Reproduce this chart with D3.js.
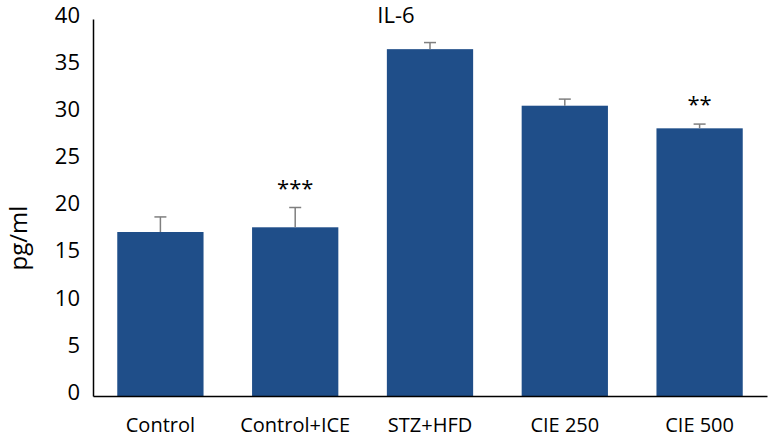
<!DOCTYPE html>
<html><head><meta charset="utf-8">
<script src="https://cdn.jsdelivr.net/npm/d3@7"></script>
<style>body{margin:0;background:#fff}svg{display:block}text{font-family:"Open Sans","Liberation Sans",sans-serif;fill:#000}</style>
</head><body>
<svg id="c" width="768" height="437"></svg>
<script>
const categories = ["Control","Control+ICE","STZ+HFD","CIE 250","CIE 500"];
const values = [17.4, 17.9, 36.8, 30.8, 28.4];
const errors = [1.6, 2.1, 0.7, 0.7, 0.45];
const marks = ["", "***", "", "", "**"];
const yTicks = [0,5,10,15,20,25,30,35,40];

const svg = d3.select("#c");
const m = {l:93, r:1, t:19, b:41};
const W = 768, H = 437;
const x = d3.scaleBand().domain(categories).range([m.l, W - m.r]).paddingInner(0.36).paddingOuter(0.18);
const y = d3.scaleLinear().domain([0,40]).range([H - m.b, m.t]);

const g = svg.append("g");
g.selectAll("rect.bar").data(categories).join("rect")
  .attr("x", d => x(d)).attr("width", x.bandwidth())
  .attr("y", (d,i) => y(values[i])).attr("height", (d,i) => y(0) - y(values[i]))
  .attr("fill", "#1F4E89");

const eb = g.selectAll("g.err").data(categories).join("g");
eb.append("line").attr("x1", d => x(d)+x.bandwidth()/2).attr("x2", d => x(d)+x.bandwidth()/2)
  .attr("y1", (d,i) => y(values[i])).attr("y2", (d,i) => y(values[i]+errors[i]))
  .attr("stroke", "#7f7f7f").attr("stroke-width", 1.5);
eb.append("line").attr("x1", d => x(d)+x.bandwidth()/2-6).attr("x2", d => x(d)+x.bandwidth()/2+6)
  .attr("y1", (d,i) => y(values[i]+errors[i])).attr("y2", (d,i) => y(values[i]+errors[i]))
  .attr("stroke", "#7f7f7f").attr("stroke-width", 1.5);

g.selectAll("text.mark").data(categories).join("text")
  .attr("x", d => x(d)+x.bandwidth()/2)
  .attr("y", (d,i) => y(values[i]+errors[i]) - 12)
  .attr("text-anchor", "middle").attr("font-size", 22)
  .text((d,i) => marks[i]);

const ya = svg.append("g").attr("transform", `translate(${m.l},0)`)
  .call(d3.axisLeft(y).tickValues(yTicks).tickSize(0).tickPadding(13));
ya.select(".domain").attr("stroke", "#000").attr("stroke-width", 1.5);
ya.selectAll("text").attr("font-size", 22).attr("dy", "0.15em");

const xa = svg.append("g").attr("transform", `translate(0,${y(0)})`)
  .call(d3.axisBottom(x).tickSize(0).tickPadding(22));
xa.select(".domain").attr("stroke", "#000").attr("stroke-width", 1.5);
xa.selectAll("text").attr("font-size", 20);

svg.append("text").attr("x", 396).attr("y", 23).attr("text-anchor", "middle")
  .attr("font-size", 22).text("IL-6");
svg.append("text").attr("transform", "translate(27,238) rotate(-90)")
  .attr("text-anchor", "middle").attr("font-size", 24).text("pg/ml");
</script>
</body></html>
